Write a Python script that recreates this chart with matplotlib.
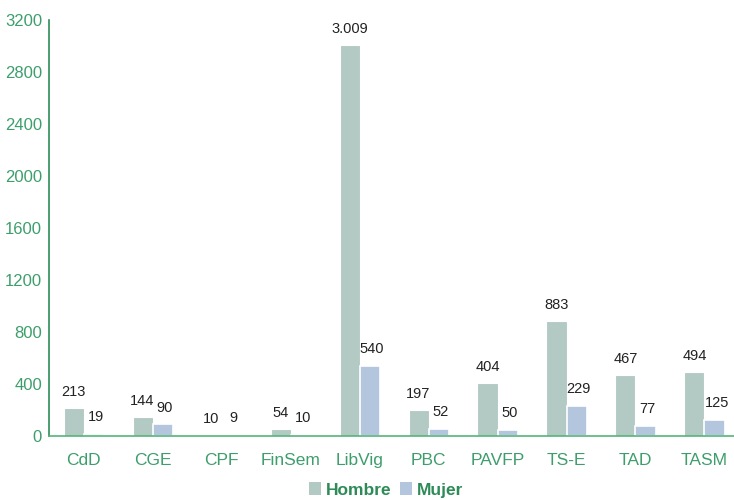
import matplotlib
matplotlib.use("Agg")
import matplotlib.pyplot as plt
import numpy as np
from matplotlib.patches import Patch

categories = ["CdD", "CGE", "CPF", "FinSem", "LibVig", "PBC", "PAVFP", "TS-E", "TAD", "TASM"]
hombre = [213, 144, 10, 54, 3009, 197, 404, 883, 467, 494]
mujer = [19, 90, 9, 10, 540, 52, 50, 229, 77, 125]
yticks = [0, 400, 800, 1200, 1600, 2000, 2400, 2800, 3200]

plt.rcParams['font.family'] = ['Liberation Sans', 'DejaVu Sans']

c_h = "#b3c9c4"
c_m = "#b4c6dd"
green_text = "#3d9e6c"

fig = plt.figure(figsize=(7.34, 5.0), dpi=100)
ax = fig.add_axes([0.0668, 0.128, 0.94, 0.832])

x = np.arange(len(categories))
w = 0.29
ax.bar(x - w/2, hombre, w, color=c_h, edgecolor="white", linewidth=0.8)
ax.bar(x + w/2, mujer, w, color=c_m, edgecolor="white", linewidth=1.2)

def fmt(v):
    return f"{v:,}".replace(",", ".")

for xi, v in zip(x, hombre):
    ax.text(xi - w/2, v + 70, fmt(v), ha="center", va="bottom", fontsize=10.5, color="#222222")
for xi, v in zip(x, mujer):
    ax.text(xi + w/2 + 0.03, v + 75, fmt(v), ha="center", va="bottom", fontsize=10.5, color="#222222")

ax.set_xlim(-0.5, len(categories) - 0.5)
ax.set_ylim(0, 3200)
ax.set_yticks(yticks)
ax.set_yticklabels([str(t) for t in yticks])
ax.set_xticks(x)
ax.set_xticklabels(categories)
ax.tick_params(axis="y", colors=green_text, labelsize=12, length=0, pad=5)
ax.tick_params(axis="x", colors=green_text, labelsize=12.5, length=0, pad=12)
for s in ["top", "right"]:
    ax.spines[s].set_visible(False)
ax.spines["left"].set_color("#2e8b57")
ax.spines["bottom"].set_color("#55b57a")
ax.spines["left"].set_linewidth(1.2)
ax.spines["bottom"].set_linewidth(1.2)

handles = [Patch(facecolor=c_h, label="Hombre"), Patch(facecolor=c_m, label="Mujer")]
leg = fig.legend(handles=handles, loc="center", bbox_to_anchor=(0.526, 0.02), ncol=2,
                 frameon=False, handlelength=0.7, handleheight=0.7, handletextpad=0.25,
                 columnspacing=0.5, prop={"size": 12.5, "weight": "bold"})
for t in leg.get_texts():
    t.set_color("#2e8b57")

fig.savefig("out.png", dpi=100)
